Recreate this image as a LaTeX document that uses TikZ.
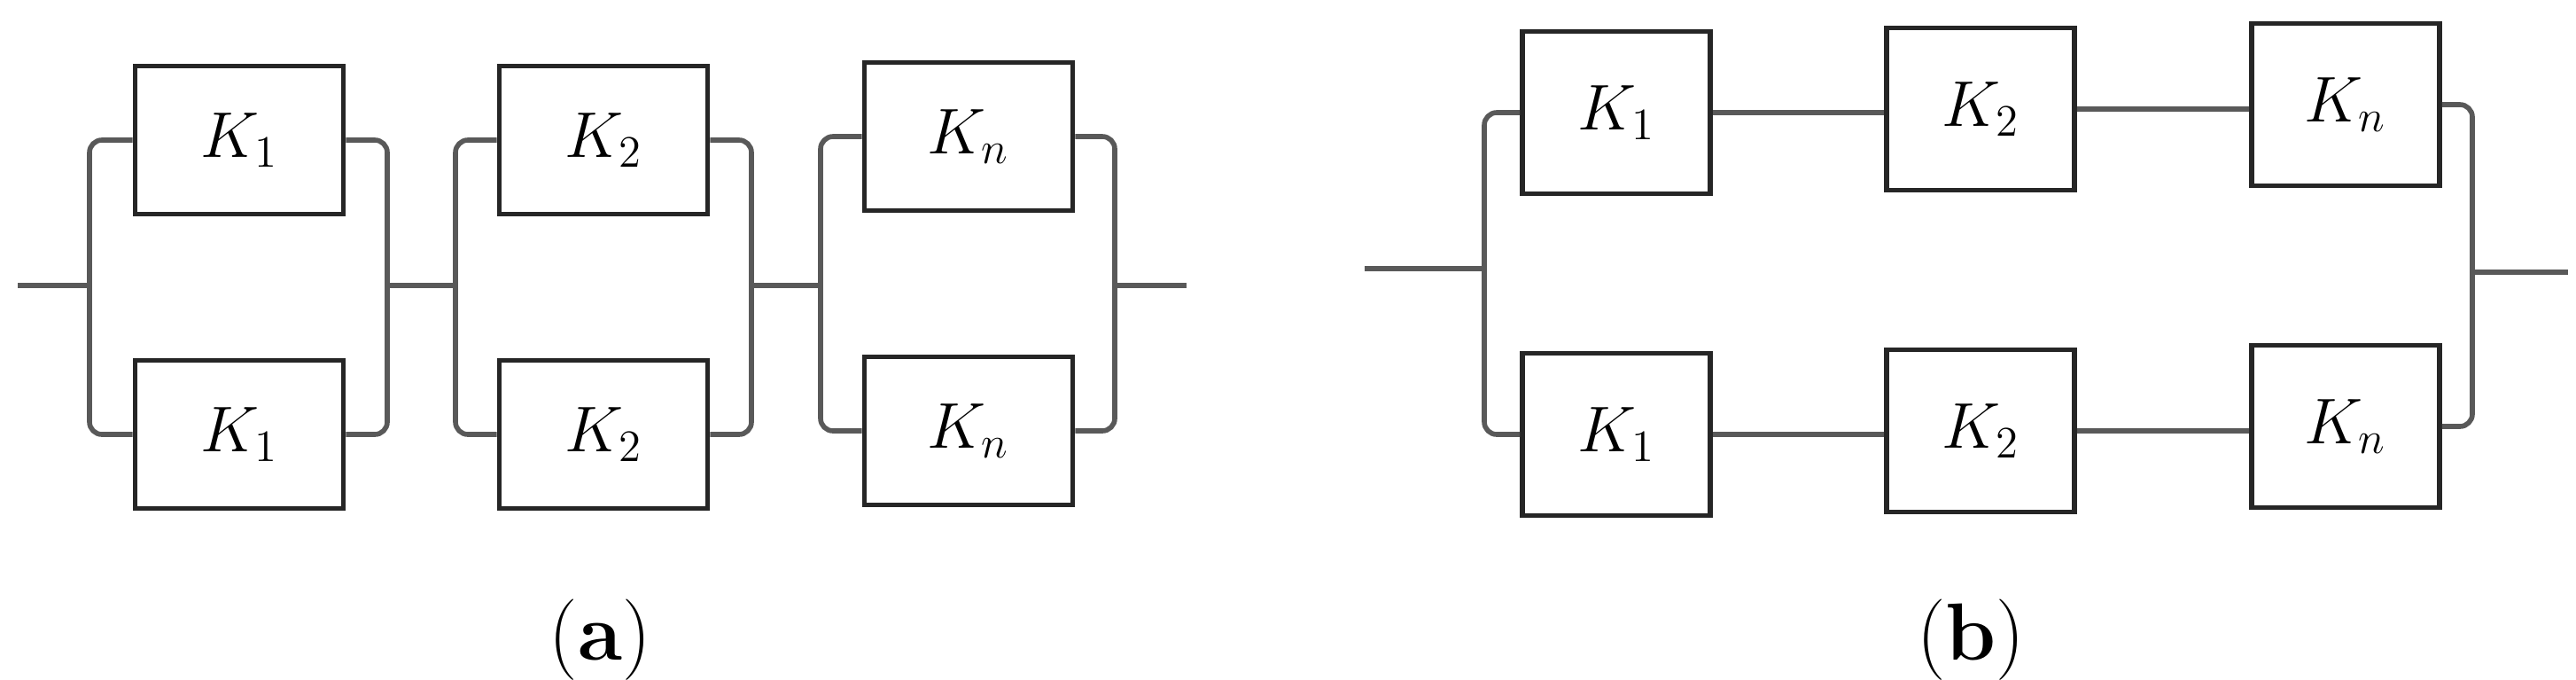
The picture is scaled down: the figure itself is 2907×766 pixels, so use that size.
\documentclass[tikz,border=0pt]{standalone}
\begin{document}
\begin{tikzpicture}[x=0.01cm,y=-0.01cm,
  blk/.style={draw=black!85,line width=1.6pt,minimum width=2.3cm,minimum height=1.67cm,inner sep=0pt,font=\fontsize{22}{26}\selectfont},
  wire/.style={draw=black!65,line width=1.6pt,rounded corners=4pt},
  captext/.style={font=\fontsize{26}{30}\selectfont}]
\useasboundingbox (0,0) rectangle (2907,766);
% panel a
\node[blk,minimum width=2.35cm] (a1t) at (270,158) {$K_1$};
\node[blk,minimum width=2.35cm] (a1b) at (270,490) {$K_1$};
\node[blk,minimum width=2.35cm] (a2t) at (681,158) {$K_2$};
\node[blk,minimum width=2.35cm] (a2b) at (681,490) {$K_2$};
\node[blk,minimum width=2.35cm] (ant) at (1093,154) {$K_n$};
\node[blk,minimum width=2.35cm] (anb) at (1093,486) {$K_n$};
\coordinate (ain) at (20,322);
\coordinate (aj0) at (101,322);
\coordinate (aj1) at (437,322);
\coordinate (aj1b) at (514,322);
\coordinate (aj2) at (848,322);
\coordinate (aj2b) at (926,322);
\coordinate (aj3) at (1258,322);
\coordinate (aout) at (1339,322);
\draw[wire] (ain) -- (aj0);
\draw[wire] (a1t.west) -| (aj0) |- (a1b.west);
\draw[wire] (a1t.east) -| (aj1) |- (a1b.east);
\draw[wire] (aj1) -- (aj1b);
\draw[wire] (a2t.west) -| (aj1b) |- (a2b.west);
\draw[wire] (a2t.east) -| (aj2) |- (a2b.east);
\draw[wire] (aj2) -- (aj2b);
\draw[wire] (ant.west) -| (aj2b) |- (anb.west);
\draw[wire] (ant.east) -| (aj3) |- (anb.east);
\draw[wire] (aj3) -- (aout);
\node[captext] (capa) at (677,722) {(\textbf{a})};
% panel b
\node[blk,minimum width=2.12cm,minimum height=1.83cm] (b1t) at (1824,127) {$K_1$};
\node[blk,minimum width=2.12cm,minimum height=1.83cm] (b2t) at (2235,123) {$K_2$};
\node[blk,minimum width=2.12cm,minimum height=1.83cm] (bnt) at (2647,118) {$K_n$};
\node[blk,minimum width=2.12cm,minimum height=1.83cm] (b1b) at (1824,490) {$K_1$};
\node[blk,minimum width=2.12cm,minimum height=1.83cm] (b2b) at (2235,486) {$K_2$};
\node[blk,minimum width=2.12cm,minimum height=1.83cm] (bnb) at (2647,481) {$K_n$};
\coordinate (bin) at (1540,303);
\coordinate (bj0) at (1675,303);
\coordinate (bj1) at (2790,307);
\coordinate (bout) at (2898,307);
\draw[wire] (bin) -- (bj0);
\draw[wire] (b1t.west) -| (bj0) |- (b1b.west);
\draw[wire] (b1t.east) -- (b2t.west |- b1t.east);
\draw[wire] (b2t.east) -- (bnt.west |- b2t.east);
\draw[wire] (b1b.east) -- (b2b.west |- b1b.east);
\draw[wire] (b2b.east) -- (bnb.west |- b2b.east);
\draw[wire] (bnt.east) -| (bj1) |- (bnb.east);
\draw[wire] (bj1) -- (bout);
\node[captext] (capb) at (2224,722) {(\textbf{b})};
\end{tikzpicture}
\end{document}
